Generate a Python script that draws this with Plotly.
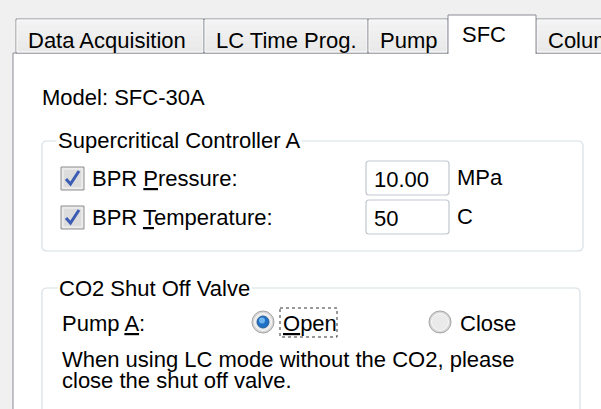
import plotly.graph_objects as go

# ---- content ----
tab_labels = ["Data Acquisition", "LC Time Prog.", "Pump", "SFC", "Column"]
tab_edges = [16, 204, 368, 448, 536, 640]
selected_tab = "SFC"
model_label = "Model: SFC-30A"
group1_title = "Supercritical Controller A"
param_labels = ["BPR <u>P</u>ressure:", "BPR <u>T</u>emperature:"]
param_checked = [True, True]
param_values = ["10.00", "50"]
param_units = ["MPa", "C"]
group2_title = "CO2 Shut Off Valve"
pump_label = "Pump <u>A</u>:"
radio_labels = ["<u>O</u>pen", "Close"]
radio_selected = [True, False]
note_lines = ["When using LC mode without the CO2, please", "close the shut off valve."]

W, H = 601, 409
FONT = "Liberation Sans"
FS = 22
BORDER = "#898c95"
GROUP = "#d5dfe5"

shapes = []
annotations = []


def rect(x0, y0, x1, y1, fill=None, line=None, lw=1, layer="above"):
    shapes.append(dict(type="rect", x0=x0, y0=y0, x1=x1, y1=y1, xref="x", yref="y",
                       fillcolor=fill if fill else "rgba(0,0,0,0)",
                       line=dict(color=line if line else "rgba(0,0,0,0)", width=lw if line else 0),
                       layer=layer))


def path(d, color, lw=1, fill=None):
    shapes.append(dict(type="path", path=d, xref="x", yref="y",
                       fillcolor=fill if fill else "rgba(0,0,0,0)",
                       line=dict(color=color, width=lw)))


def circle(cx, cy, r, fill, line=None, lw=1):
    shapes.append(dict(type="circle", x0=cx - r, y0=cy - r, x1=cx + r, y1=cy + r, xref="x", yref="y",
                       fillcolor=fill, line=dict(color=line if line else "rgba(0,0,0,0)", width=lw if line else 0)))


def text(x, y, s, size=FS, anchor="left", bg=None, pad=0):
    annotations.append(dict(x=x, y=y, xref="x", yref="y", text=s, showarrow=False,
                            xanchor=anchor, yanchor="middle",
                            font=dict(family=FONT, size=size, color="#000000"),
                            bgcolor=bg if bg else "rgba(0,0,0,0)", borderpad=pad))


def rounded(x0, y0, x1, y1, r):
    return (f"M{x0 + r},{y0} L{x1 - r},{y0} Q{x1},{y0} {x1},{y0 + r} L{x1},{y1 - r} "
            f"Q{x1},{y1} {x1 - r},{y1} L{x0 + r},{y1} Q{x0},{y1} {x0},{y1 - r} "
            f"L{x0},{y0 + r} Q{x0},{y0} {x0 + r},{y0} Z")


# background
rect(0, 0, W + 40, H + 40, fill="#f0f0f0", layer="below")
# panel
rect(13, 53, W + 40, H + 40, fill="#ffffff", line=BORDER)

# tabs
for i, lab in enumerate(tab_labels):
    x0, x1 = tab_edges[i], tab_edges[i + 1]
    if lab == selected_tab:
        continue
    steps = 6
    for k in range(steps):
        ya = 19 + k * (34 / steps)
        yb = 19 + (k + 1) * (34 / steps)
        g = 243 - int(k * 12 / steps)
        rect(x0 + 1, ya, x1 - 1, yb, fill=f"rgb({g},{g},{g})")
    rect(x0, 19, x1, 53, line=BORDER)
    rect(x0 + 1, 20, x1 - 1, 52, line="#fbfbfb")
    text(x0 + 11, 40, lab)

si = tab_labels.index(selected_tab)
sx0, sx1 = tab_edges[si], tab_edges[si + 1]
rect(sx0, 15, sx1, 55, fill="#ffffff")
path(f"M{sx0},54 L{sx0},15 L{sx1},15 L{sx1},54", BORDER)
text(sx0 + 13, 34, selected_tab)

# model line
text(41, 97, model_label)

# group box 1
path(rounded(42, 141, 583, 251, 5), GROUP, 1.2)
text(56, 140, group1_title, bg="#ffffff", pad=1)

rows_y = [178, 217]
for i in range(len(param_labels)):
    y = rows_y[i]
    rect(61, y - 11, 84, y + 12, fill="#e4e4e4", line="#8f8f8f")
    rect(63, y - 9, 82, y + 10, fill="#dcdcdc", line="#f4f4f4")
    if param_checked[i]:
        path(f"M66,{y + 1} L70.5,{y + 6} L79,{y - 7}", "#3c5cb4", 3)
    text(91, y, param_labels[i])
    path(rounded(366, y - 17, 449, y + 17, 3), "#c2c7cf", 1.2, fill="#ffffff")
    text(373, y + 1, param_values[i])
    text(456, y - 1, param_units[i])

# group box 2
path(rounded(42, 288, 580, 440, 5), GROUP, 1.2)
text(57, 288, group2_title, bg="#ffffff", pad=1)

py = 323
text(61, py, pump_label)
radio_x = [263, 440]
for i in range(len(radio_labels)):
    cx = radio_x[i]
    circle(cx, py - 1, 11, "#d6d6d6", "#a5a5a5", 1)
    circle(cx, py - 1, 8.5, "#eaeaea", "#f8f8f8", 1)
    if radio_selected[i]:
        circle(cx, py - 1, 6, "#1f6fc4", "#2a5f98", 1)
        circle(cx - 1, py - 2.5, 3, "#6fb6f0")
    lx = cx + 19
    if radio_selected[i]:
        shapes.append(dict(type="rect", x0=lx - 2, y0=py - 15, x1=lx + 55, y1=py + 14, xref="x", yref="y",
                           line=dict(color="#333333", width=1, dash="dot"), fillcolor="rgba(0,0,0,0)"))
    text(lx, py, radio_labels[i])

text(61, 359, note_lines[0])
text(61, 380, note_lines[1])

fig = go.Figure()
fig.update_layout(
    width=W, height=H, margin=dict(l=0, r=0, t=0, b=0),
    paper_bgcolor="#f0f0f0", plot_bgcolor="#f0f0f0",
    xaxis=dict(range=[0, W], visible=False, fixedrange=True),
    yaxis=dict(range=[H, 0], visible=False, fixedrange=True),
    shapes=shapes, annotations=annotations, showlegend=False,
)
fig.write_html("out.html", config={"displayModeBar": False},
               post_script="document.body.style.margin='0px';document.body.style.overflow='hidden';")
